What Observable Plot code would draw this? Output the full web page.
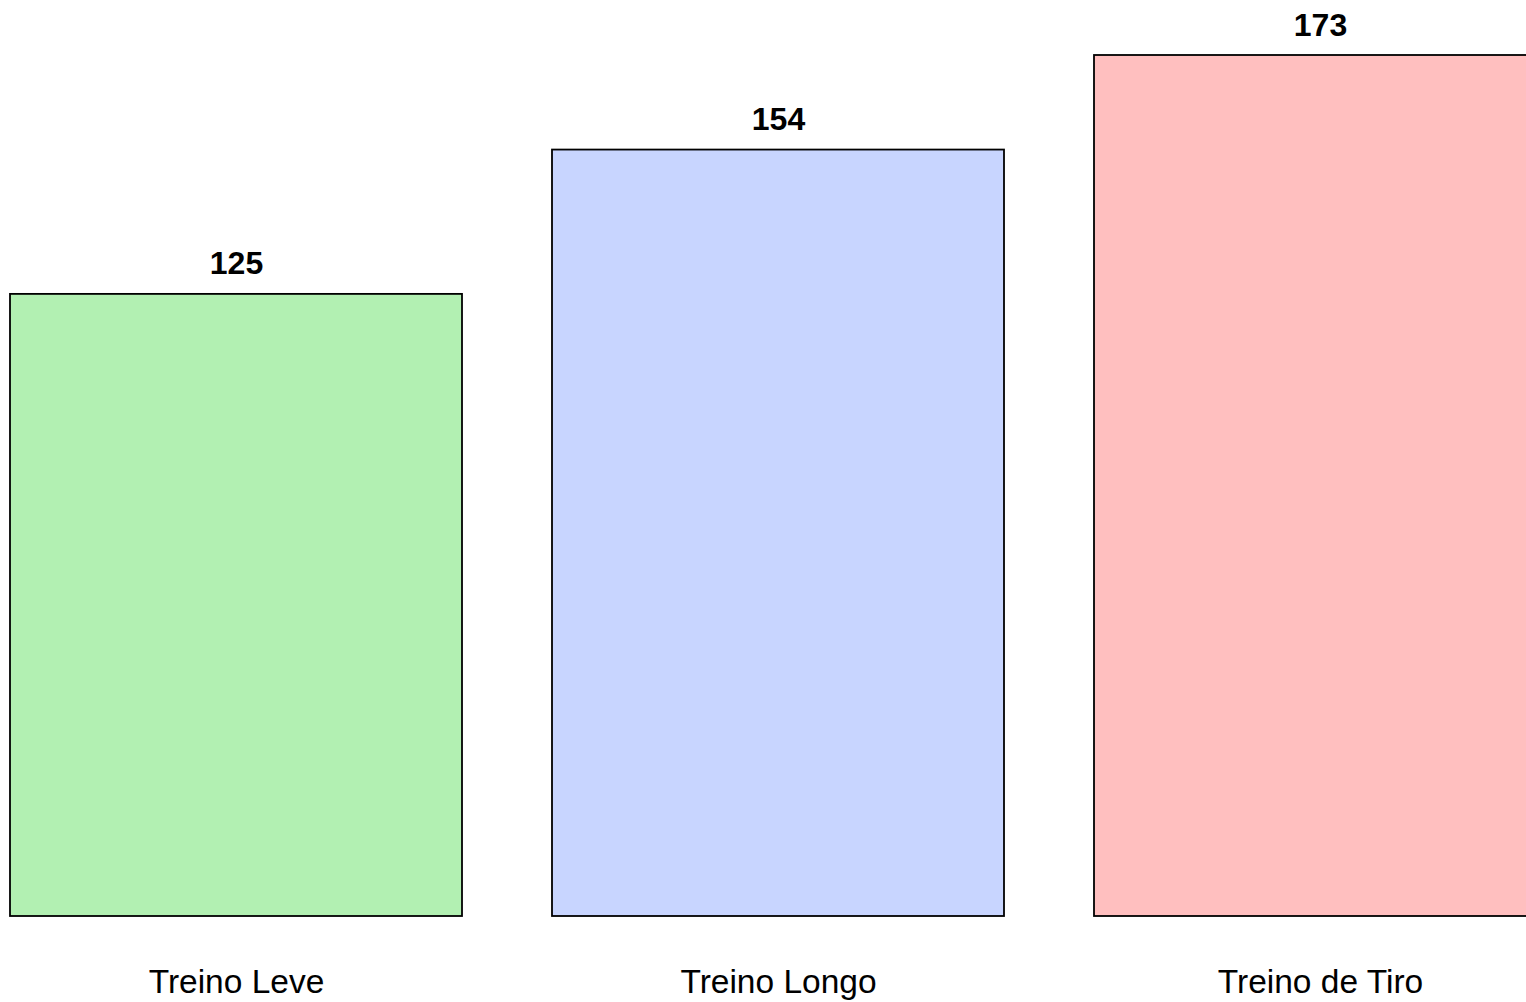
<!DOCTYPE html>
<html>
<head>
<meta charset="utf-8">
<script src="https://cdn.jsdelivr.net/npm/d3@7"></script>
<script src="https://cdn.jsdelivr.net/npm/@observablehq/plot@0.6"></script>
<style>
  html, body { margin: 0; padding: 0; background: white; overflow: hidden; }
  svg { overflow: hidden; }
</style>
</head>
<body>
<div id="chart"></div>
<script>
const categories = ["Treino Leve", "Treino Longo", "Treino de Tiro"];
const values = [125, 154, 173];
const colors = ["#b2f0b2", "#c8d5ff", "#ffbfbf"];

const data = categories.map((c, i) => ({category: c, value: values[i], color: colors[i]}));

const chart = Plot.plot({
  width: 1526,
  height: 1002,
  marginTop: 55,
  marginBottom: 86,
  marginLeft: 0,
  marginRight: 0,
  style: {fontFamily: "Arial, 'Liberation Sans', sans-serif", background: "white"},
  x: {domain: categories, range: [10, 1546], paddingInner: 90 / 542, paddingOuter: 0, label: null},
  y: {domain: [0, 173], axis: null},
  marks: [
    Plot.barY(data, {x: "category", y: "value", fill: "color", stroke: "black", strokeWidth: 1.8, insetLeft: 0, insetRight: 0}),
    Plot.text(data, {x: "category", y: "value", text: d => String(d.value), dy: -20, lineAnchor: "bottom", fontSize: 32, fontWeight: "bold", fill: "black"}),
    Plot.axisX({tickSize: 0, tickPadding: 53, fontSize: 33.5, label: null, fill: "black"})
  ]
});
document.getElementById("chart").appendChild(chart);
</script>
</body>
</html>
